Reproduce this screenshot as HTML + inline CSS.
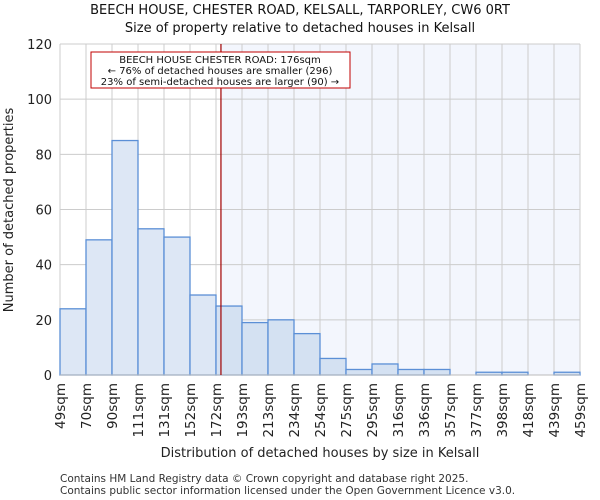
<!DOCTYPE html>
<html><head><meta charset="utf-8"><style>body{margin:0;background:#fff}svg{display:block;font-family:"DejaVu Sans","Liberation Sans",sans-serif}</style></head>
<body>
<svg id="c" width="600" height="500"></svg>
<script>
const categories=["49sqm","70sqm","90sqm","111sqm","131sqm","152sqm","172sqm","193sqm","213sqm","234sqm","254sqm","275sqm","295sqm","316sqm","336sqm","357sqm","377sqm","398sqm","418sqm","439sqm","459sqm"];
const counts=[24,49,85,53,50,29,25,19,20,15,6,2,4,2,2,0,1,1,0,1];
const yTicks=[0,20,40,60,80,100,120];
const binEdges=[49,70,90,111,131,152,172,193,213,234,254,275,295,316,336,357,377,398,418,439,459];
const propertySize=176;
const NS="http://www.w3.org/2000/svg",svg=document.getElementById('c');
const L=60,R=580,T=44,B=375,yMax=120;
const bw=(R-L)/counts.length;
const y=v=>B-(v/yMax)*(B-T);
const xi=i=>L+i*bw;
function xv(v){for(let i=0;i<binEdges.length-1;i++){if(v<=binEdges[i+1])return xi(i)+(v-binEdges[i])/(binEdges[i+1]-binEdges[i])*bw;}return R;}
function mk(t,a,txt){const e=document.createElementNS(NS,t);for(const k in a)e.setAttribute(k,a[k]);if(txt!=null)e.textContent=txt;svg.appendChild(e);return e;}
const px=xv(propertySize);
let e=mk('rect',{x:px,y:T,width:R-px,height:B-T,fill:'#f3f6fd'});

yTicks.forEach(t=>{let g=mk('line',{x1:L,x2:R,y1:y(t),y2:y(t),stroke:'#cccccc'});
let l=mk('text',{x:L-8,y:y(t)+5,'text-anchor':'end','font-size':13,fill:'#222'},t);});
for(let i=0;i<=counts.length;i++){let g=mk('line',{x1:xi(i),x2:xi(i),y1:T,y2:B,stroke:'#cccccc'});}
counts.forEach((v,i)=>{let r=mk('rect',{x:xi(i),y:y(v),width:bw,height:B-y(v),fill:xi(i)>=px-6?'#d4e1f2':'#dde7f5',stroke:'#5b8fd6','stroke-width':1.3});});
e=mk('line',{x1:L,x2:R,y1:B,y2:B,stroke:'#bbb'});
categories.forEach((c,i)=>{let t=mk('text',{transform:`translate(${xi(i)+5},383) rotate(-90)`,'text-anchor':'end','font-size':13.5,fill:'#222'},c);});
e=mk('line',{x1:px,x2:px,y1:T,y2:B,stroke:'#a00000','stroke-width':1.2});
e=mk('rect',{x:91,y:52,width:259,height:36,fill:'#fff',stroke:'#c00000'});
[["BEECH HOUSE CHESTER ROAD: 176sqm",63],["← 76% of detached houses are smaller (296)",74],["23% of semi-detached houses are larger (90) →",85]].forEach(a=>{let t=mk('text',{x:220,y:a[1],'text-anchor':'middle','font-size':10,fill:'#111'},a[0]);});
e=mk('text',{x:300,y:14,'text-anchor':'middle','font-size':13,fill:'#111'},"BEECH HOUSE, CHESTER ROAD, KELSALL, TARPORLEY, CW6 0RT");
e=mk('text',{x:300,y:32,'text-anchor':'middle','font-size':13,fill:'#111'},"Size of property relative to detached houses in Kelsall");
e=mk('text',{x:320,y:457,'text-anchor':'middle','font-size':13,fill:'#222'},"Distribution of detached houses by size in Kelsall");
e=mk('text',{transform:'translate(13,210) rotate(-90)','text-anchor':'middle','font-size':13,fill:'#222'},"Number of detached properties");
e=mk('text',{x:60,y:482,'font-size':10.5,fill:'#333'},"Contains HM Land Registry data © Crown copyright and database right 2025.");
e=mk('text',{x:60,y:494,'font-size':10.5,fill:'#333'},"Contains public sector information licensed under the Open Government Licence v3.0.");
</script>
</body></html>
